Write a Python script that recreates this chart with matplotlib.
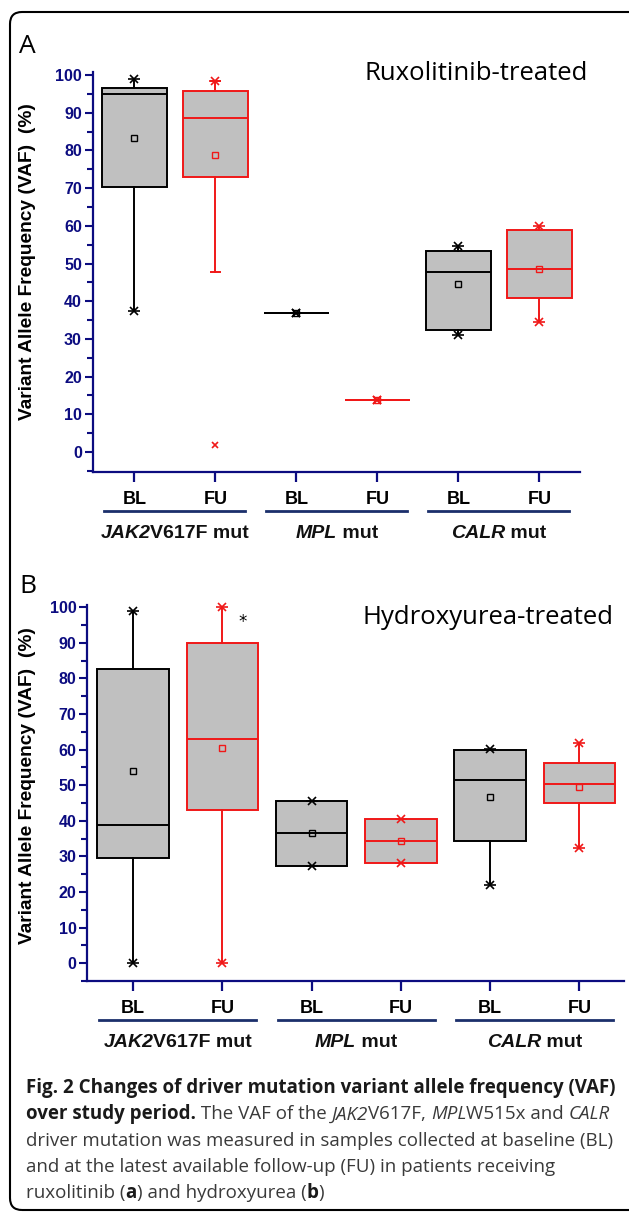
import matplotlib
matplotlib.use('Agg')
import numpy as np
import matplotlib.pyplot as plt
from matplotlib.patches import FancyBboxPatch
from matplotlib.lines import Line2D
from matplotlib.transforms import IdentityTransform

# ---- data ----
cats = ['BL', 'FU', 'BL', 'FU', 'BL', 'FU']
groups = [('JAK2', 'V617F mut'), ('MPL', ' mut'), ('CALR', ' mut')]

# panel A: ruxolitinib
a_q1 = [70.4, 73.0, 36.9, 13.9, 32.4, 40.8]
a_med = [95.0, 88.5, 36.9, 13.9, 47.8, 48.6]
a_q3 = [96.6, 95.8, 36.9, 13.9, 53.4, 58.9]
a_mean = [83.3, 78.7, 36.9, 13.9, 44.6, 48.6]
a_whislo = [37.4, 47.8, 36.9, 13.9, 31.0, 34.4]
a_whishi = [98.9, 98.4, 36.9, 13.9, 54.7, 59.9]
a_lo_star = [37.4, np.nan, 36.9, 13.9, 31.0, 34.4]
a_hi_star = [98.9, 98.4, 36.9, 13.9, 54.7, 59.9]
a_out_x = [2]
a_out_y = [1.9]

# panel B: hydroxyurea
b_q1 = [29.5, 43.0, 27.3, 28.1, 34.4, 44.9]
b_med = [38.8, 62.9, 36.5, 34.3, 51.4, 50.4]
b_q3 = [82.6, 89.9, 45.6, 40.4, 59.8, 56.2]
b_mean = [54.0, 60.4, 36.5, 34.3, 46.6, 49.4]
b_whislo = [0.0, 0.0, 27.3, 28.1, 21.9, 32.4]
b_whishi = [98.9, 99.9, 45.6, 40.4, 60.2, 61.9]
b_lo_star = [0.0, 0.0, 27.3, 28.1, 21.9, 32.4]
b_hi_star = [98.9, 99.9, 45.6, 40.4, 60.2, 61.9]
b_sig_x, b_sig_y = 2.23, 95.8

W, H = 629, 1213
NAVY = '#0c0c80'
GREY = '#c0c0c0'
RED = '#f01818'
AX_FONT = 'Liberation Sans'
TXT_FONT = 'Open Sans'

fig = plt.figure(figsize=(W / 100, H / 100), dpi=100)


def fx(px):
    return px / W


def fy(py):
    return 1 - py / H


def text_w(s, r, **kw):
    t1 = fig.text(0, 0, s + '|', **kw)
    t2 = fig.text(0, 0, '|', **kw)
    w = t1.get_window_extent(r).width - t2.get_window_extent(r).width
    t1.remove()
    t2.remove()
    return w


def rich(x, y, parts, ha='left', **base):
    r = fig.canvas.get_renderer()
    ws = []
    for s, st in parts:
        kw = dict(base)
        kw.update(st)
        ws.append(text_w(s, r, **kw))
    if ha == 'center':
        x = x - sum(ws) / 2
    for (s, st), w in zip(parts, ws):
        kw = dict(base)
        kw.update(st)
        fig.text(fx(x), fy(y), s, ha='left', va='baseline', **kw)
        x += w


def panel(ax, q1, med, q3, mean, wlo, whi, lo_star, hi_star, ylim, box_w, caps):
    pos = np.arange(1, len(cats) + 1)
    cols = ['black', RED] * 3
    for i in range(len(cats)):
        c = cols[i]
        st = dict(q1=q1[i], med=med[i], q3=q3[i], mean=mean[i],
                  whislo=wlo[i], whishi=whi[i], fliers=[])
        ax.bxp([st], positions=[pos[i]], widths=box_w, patch_artist=True,
               showmeans=True, showcaps=caps[i] > 0, capwidths=caps[i] if caps[i] > 0 else None,
               manage_ticks=False,
               boxprops=dict(facecolor=GREY, edgecolor=c, lw=1.4),
               medianprops=dict(color=c, lw=1.4),
               whiskerprops=dict(color=c, lw=1.4),
               capprops=dict(color=c, lw=1.4),
               meanprops=dict(marker='s', mfc='none', mec=c, ms=4, mew=1.0))
        for yv in (lo_star[i], hi_star[i]):
            ax.plot(pos[i], yv, ls='none', marker='x', color=c, ms=6, mew=1.2, clip_on=False)
            ax.plot(pos[i], yv, ls='none', marker='_', color=c, ms=8, mew=1.2, clip_on=False)
    ax.set_xlim(0.49, 6.5)
    ax.set_ylim(*ylim)
    ax.set_yticks(np.arange(0, 101, 10))
    ax.set_yticks(np.arange(-5, 101, 5), minor=True)
    ax.set_xticks(pos)
    ax.set_xticklabels(cats, fontsize=13, fontweight='bold', family=AX_FONT)
    for s in ('top', 'right'):
        ax.spines[s].set_visible(False)
    for s in ('left', 'bottom'):
        ax.spines[s].set_color(NAVY)
        ax.spines[s].set_linewidth(1.6)
    ax.tick_params(axis='y', which='major', length=6, width=1.5, colors=NAVY, pad=2)
    ax.tick_params(axis='y', which='minor', length=4, width=1.5, colors=NAVY)
    ax.tick_params(axis='x', length=7, width=1.6, color=NAVY, pad=7)
    ax.tick_params(axis='x', which='minor', bottom=False)
    for lab in ax.get_yticklabels():
        lab.set_fontweight('bold')
        lab.set_fontsize(11.5)
        lab.set_family(AX_FONT)
        lab.set_color(NAVY)
    return pos


def group_labels(ax, line_y, text_y, half):
    for k, (it, rest) in enumerate(groups):
        xc = 1.5 + 2 * k
        x0 = ax.transData.transform((xc - half, 0))[0]
        x1 = ax.transData.transform((xc + half, 0))[0]
        fig.add_artist(Line2D([fx(x0), fx(x1)], [fy(line_y), fy(line_y)],
                              color='#1b2f6b', lw=2.0))
        xm = ax.transData.transform((xc, 0))[0]
        rich(xm, text_y, [(it, dict(style='italic')), (rest, {})], ha='center',
             fontsize=14, fontweight='bold', family=AX_FONT, color='#111111')


# ---- panel A ----
axA = fig.add_axes([fx(93), fy(472), fx(580 - 93), (472 - 72) / H])
panel(axA, a_q1, a_med, a_q3, a_mean, a_whislo, a_whishi, a_lo_star, a_hi_star,
      (-5.3, 100.8), 0.81, [0, 0.11, 0, 0, 0, 0])
axA.plot(a_out_x, a_out_y, ls='none', marker='x', color=RED, ms=5, mew=1.2)
group_labels(axA, 511, 538, 0.87)

# ---- panel B ----
axB = fig.add_axes([fx(87.5), fy(981), fx(624 - 87.5), (981 - 605) / H])
panel(axB, b_q1, b_med, b_q3, b_mean, b_whislo, b_whishi, b_lo_star, b_hi_star,
      (-5.0, 100.6), 0.8, [0] * 6)
axB.text(b_sig_x, b_sig_y, '*', ha='center', va='center', fontsize=12, color='black')
group_labels(axB, 1020, 1047, 0.88)

# y labels, titles, panel letters
for yc in (262, 786):
    fig.text(fx(28), fy(yc), 'Variant Allele Frequency (VAF)  (%)', rotation=90,
             ha='center', va='center', fontsize=13.8, fontweight='bold', family=AX_FONT)
fig.text(fx(476), fy(73), 'Ruxolitinib-treated', ha='center', va='center',
         fontsize=18.5, family=TXT_FONT)
fig.text(fx(488), fy(617), 'Hydroxyurea-treated', ha='center', va='center',
         fontsize=18.5, family=TXT_FONT)
fig.text(fx(19), fy(53), 'A', fontsize=19, family=TXT_FONT, va='baseline')
fig.text(fx(19), fy(593), 'B', fontsize=19, family=TXT_FONT, va='baseline')

# caption
bold = dict(fontweight='bold', color='#1a1a1a')
reg = dict(color='#3a3a3a')
ital = dict(color='#3a3a3a', style='italic')
cap_lines = [
    [('Fig. 2 Changes of driver mutation variant allele frequency (VAF)', bold)],
    [('over study period.', bold), (' The VAF of the ', reg), ('JAK2', ital),
     ('V617F, ', reg), ('MPL', ital), ('W515x and ', reg), ('CALR', ital)],
    [('driver mutation was measured in samples collected at baseline (BL)', reg)],
    [('and at the latest available follow-up (FU) in patients receiving', reg)],
    [('ruxolitinib (', reg), ('a', bold), (') and hydroxyurea (', reg), ('b', bold), (')', reg)],
]
r = fig.canvas.get_renderer()
w12 = text_w(cap_lines[0][0][0], r, fontsize=12, family=TXT_FONT, fontweight='bold')
cap_size = 12 * 590 / w12
for k, parts in enumerate(cap_lines):
    rich(26, 1093 + 26.3 * k, parts, fontsize=cap_size, family=TXT_FONT)

# frame
fig.add_artist(FancyBboxPatch((10, 3), 640, 1198, boxstyle='round,pad=0,rounding_size=12',
                              transform=IdentityTransform(), fill=False, lw=1.5,
                              edgecolor='black'))

fig.savefig('out.png', dpi=100)
